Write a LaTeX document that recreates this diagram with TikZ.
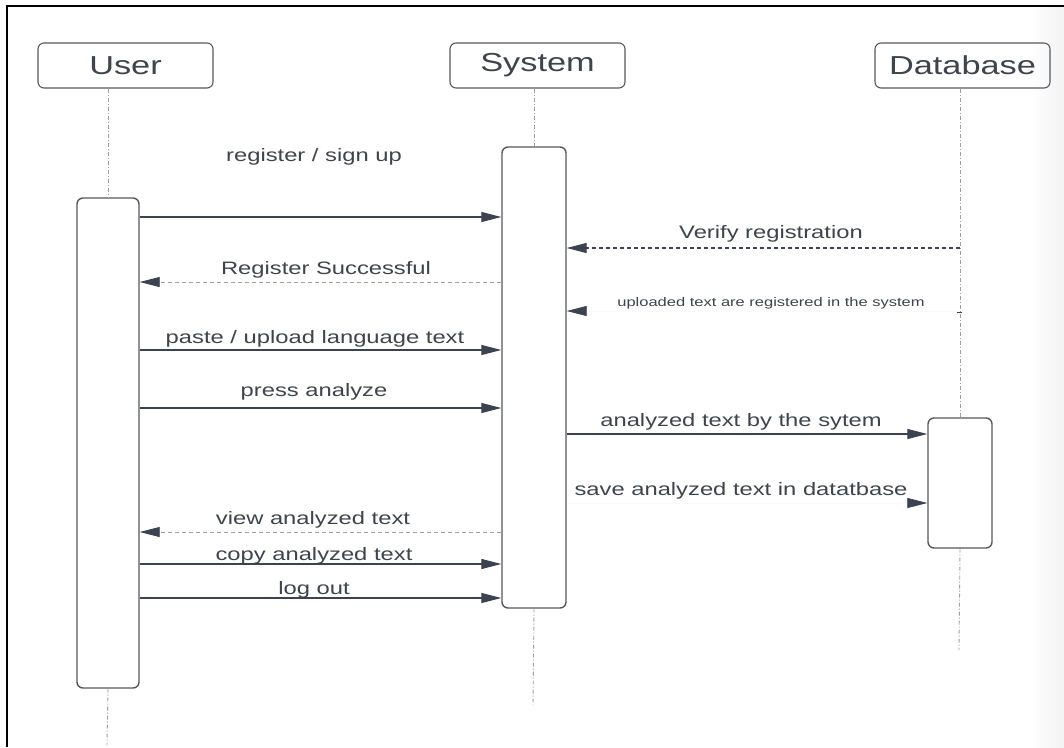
\documentclass[tikz,border=0pt]{standalone}
\usepackage{fontspec}
\usepackage{graphicx}
\setmainfont{Liberation Sans}
\usetikzlibrary{arrows.meta}
\definecolor{txt}{HTML}{3E434C}
\definecolor{arr}{HTML}{3B4250}
\definecolor{boxc}{HTML}{55595F}
\newcommand{\wtxt}[1]{\scalebox{1.32}[1]{#1}}
\tikzset{
  head/.style={draw=boxc, line width=1.1pt, rounded corners=6pt, minimum width=175pt, minimum height=45pt, inner sep=0pt, text=txt, font=\fontsize{26}{28}\selectfont},
  act/.style={draw=boxc, line width=1.4pt, rounded corners=6pt, inner sep=0pt, fill=white},
  life/.style={draw=gray!75, line width=0.9pt, dash pattern=on 4pt off 2pt on 1pt off 2pt},
  msg/.style={draw=arr, line width=1.1pt, -{Triangle[length=20pt,width=10pt]}},
  ret/.style={draw=gray!75, line width=0.9pt, dash pattern=on 4pt off 3pt, -{Triangle[length=20pt,width=10pt,color=arr]}},
  retd/.style={draw=arr, line width=1.1pt, dash pattern=on 4pt off 3pt, -{Triangle[length=20pt,width=10pt]}},
  faint/.style={draw=gray!4, line width=0.8pt, -{Triangle[length=20pt,width=10pt,color=arr]}},
  lbl/.style={text=txt, inner sep=0pt, font=\fontsize{18}{20}\selectfont},
  slbl/.style={text=txt, inner sep=0pt, font=\fontsize{12.5}{14}\selectfont},
}
\begin{document}
\begin{tikzpicture}[x=1pt,y=-1pt]
\useasboundingbox (0,0) rectangle (1064,747);
\fill[white] (0,0) rectangle (1064,747);
\shade[left color=white, right color=gray!10] (1030,7) rectangle (1064,747);
% frame
\draw[black, line width=1.3pt] (1064,6) -- (7,6) -- (7,747);

% headers
\node[head] (uh) at (125.5,65.5) {\wtxt{User}};
\node[head] (sh) at (537.5,65.5) {\wtxt{System}};
\node[head] (dh) at (962.5,65.5) {\wtxt{Database}};

% activations
\node[act, minimum width=62pt, minimum height=490pt] (ua) at (108,443) {};
\node[act, minimum width=64pt, minimum height=461pt] (sa) at (534,377.5) {};
\node[act, minimum width=64pt, minimum height=130pt] (da) at (960,483) {};

% lifelines
\coordinate (uend) at (107,745);
\coordinate (send) at (533,705);
\coordinate (dend) at (959,650);
\draw[life] (uh.south -| ua.north) -- (ua.north);
\draw[life] (ua.south) -- (uend);
\draw[life] (sh.south -| sa.north) -- (sa.north);
\draw[life] (sa.south) -- (send);
\draw[life] (dh.south -| da.north) -- (da.north);
\draw[life] (da.south) -- (dend);

% messages
\draw[msg] (ua.east |- 0,217) -- (sa.west |- 0,217);
\node[lbl] (l1) at (314,157) {\wtxt{register / sign up}};

\draw[retd] (da.north |- 0,248) -- (sa.east |- 0,248);
\node[lbl] (l2) at (771,234) {\wtxt{Verify registration}};

\draw[ret] (sa.west |- 0,282) -- (ua.east |- 0,282);
\node[lbl] (l3) at (326,270) {\wtxt{Register Successful}};

\draw[faint] (da.north |- 0,311) -- (sa.east |- 0,311);
\draw[arr, line width=0.8pt] ([xshift=-3pt]da.north |- 0,312) -- ([xshift=2pt]da.north |- 0,312);
\node[slbl] (l4) at (771,303) {\wtxt{uploaded text are registered in the system}};

\draw[msg] (ua.east |- 0,350) -- (sa.west |- 0,350);
\node[lbl] (l5) at (315,339) {\wtxt{paste / upload language text}};

\draw[msg] (ua.east |- 0,408) -- (sa.west |- 0,408);
\node[lbl] (l6) at (314,392) {\wtxt{press analyze}};

\draw[msg] (sa.east |- 0,434) -- (da.west |- 0,434);
\node[lbl] (l7) at (741,422) {\wtxt{analyzed text by the sytem}};

\draw[faint] (sa.east |- 0,503) -- (da.west |- 0,503);
\node[lbl] (l8) at (741,491) {\wtxt{save analyzed text in datatbase}};

\draw[ret] (sa.west |- 0,532) -- (ua.east |- 0,532);
\node[lbl] (l9) at (313,520) {\wtxt{view analyzed text}};

\draw[msg] (ua.east |- 0,564) -- (sa.west |- 0,564);
\node[lbl] (l10) at (314,556) {\wtxt{copy analyzed text}};

\draw[msg] (ua.east |- 0,598) -- (sa.west |- 0,598);
\node[lbl] (l11) at (314,590) {\wtxt{log out}};
\end{tikzpicture}
\end{document}
